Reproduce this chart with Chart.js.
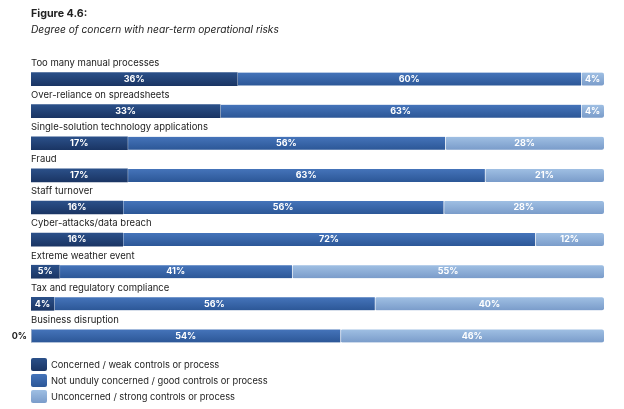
<!DOCTYPE html>
<html>
<head>
<meta charset="utf-8">
<script src="https://cdn.jsdelivr.net/npm/chart.js@4"></script>
<style>
  body { margin: 0; background: #fff; font-family: Inter, "Open Sans", sans-serif; color: #222; }
  #wrap { position: relative; width: 624px; height: 409px; }
  #myChart { position: absolute; left: 0; top: 0; }
  .title { position: absolute; left: 31px; top: 7px; font-weight: bold; font-size: 10.7px; }
  .sub { position: absolute; left: 31px; top: 23px; font-style: italic; font-size: 10.2px; }
  #legend { position: absolute; left: 31px; top: 356px; font-size: 9.3px; }
  .item { display: flex; align-items: center; height: 16px; }
  .box { width: 16px; height: 13px; border-radius: 2px; margin-right: 4px; }
</style>
</head>
<body>
<div id="wrap">
  <canvas id="myChart" width="624" height="409"></canvas>
  <div class="title">Figure 4.6:</div>
  <div class="sub">Degree of concern with near-term operational risks</div>
  <div id="legend"></div>
</div>
<script>
// Dados
const categories = [
  'Too many manual processes',
  'Over-reliance on spreadsheets',
  'Single-solution technology applications',
  'Fraud',
  'Staff turnover',
  'Cyber-attacks/data breach',
  'Extreme weather event',
  'Tax and regulatory compliance',
  'Business disruption'
];
const seriesNames = [
  'Concerned / weak controls or process',
  'Not unduly concerned / good controls or process',
  'Unconcerned / strong controls or process'
];
const concerned = [36, 33, 17, 17, 16, 16, 5, 4, 0];
const notUnduly = [60, 63, 56, 63, 56, 72, 41, 56, 54];
const unconcerned = [4, 4, 28, 21, 28, 12, 55, 40, 46];

const rawSeries = [concerned, notUnduly, unconcerned];
const colorsTop = ['#2b5089', '#4574ba', '#9fbfe3'];
const colorsBottom = ['#1a3564', '#2c5797', '#7a9cca'];

// each row is scaled to 100% width (some rows add up to 101)
const totals = categories.map((c, i) => concerned[i] + notUnduly[i] + unconcerned[i]);

function gradientFor(k) {
  return function (context) {
    const chart = context.chart;
    if (!chart.chartArea || !chart.scales.y) return colorsTop[k];
    const yc = chart.scales.y.getPixelForValue(context.dataIndex);
    const g = chart.ctx.createLinearGradient(0, yc - 6.5, 0, yc + 6.5);
    g.addColorStop(0, colorsTop[k]);
    g.addColorStop(1, colorsBottom[k]);
    return g;
  };
}

const datasets = rawSeries.map((arr, k) => ({
  label: seriesNames[k],
  data: arr.map((v, i) => v / totals[i] * 100),
  raw: arr,
  backgroundColor: gradientFor(k),
  borderColor: '#ffffff',
  borderWidth: { left: k === 0 ? 0 : 1, right: 0, top: 0, bottom: 0 },
  borderRadius: 2,
  borderSkipped: false,
  barThickness: 13
}));

// rótulos das categorias acima das barras e valores dentro
const labelPlugin = {
  id: 'labelPlugin',
  afterDatasetsDraw(chart) {
    const ctx = chart.ctx;
    const yScale = chart.scales.y;
    const area = chart.chartArea;
    ctx.save();
    ctx.font = '9.5px Inter, "Open Sans", sans-serif';
    ctx.fillStyle = '#222';
    ctx.textAlign = 'left';
    ctx.textBaseline = 'middle';
    categories.forEach((c, i) => {
      ctx.fillText(c, area.left, yScale.getPixelForValue(i) - 16);
    });
    ctx.font = 'bold 9px Inter, "Open Sans", sans-serif';
    chart.data.datasets.forEach((ds, k) => {
      const meta = chart.getDatasetMeta(k);
      meta.data.forEach((bar, i) => {
        const v = ds.raw[i];
        const txt = v + '%';
        if (v === 0) {
          ctx.fillStyle = '#222';
          ctx.textAlign = 'right';
          ctx.fillText(txt, bar.base - 4, bar.y);
        } else {
          ctx.fillStyle = '#ffffff';
          ctx.textAlign = 'center';
          ctx.fillText(txt, (bar.x + bar.base) / 2, bar.y);
        }
      });
    });
    ctx.restore();
  }
};

new Chart(document.getElementById('myChart'), {
  type: 'bar',
  data: { labels: categories, datasets: datasets },
  options: {
    indexAxis: 'y',
    responsive: false,
    animation: false,
    layout: { padding: { left: 31, right: 20, top: 63, bottom: 57 } },
    scales: {
      x: { stacked: true, min: 0, max: 100, display: false },
      y: { stacked: true, display: false }
    },
    plugins: {
      legend: { display: false },
      tooltip: { enabled: false }
    }
  },
  plugins: [labelPlugin]
});

// legenda
const legend = document.getElementById('legend');
seriesNames.forEach((name, k) => {
  const item = document.createElement('div');
  item.className = 'item';
  item.innerHTML = '<div class="box" style="background:linear-gradient(' + colorsTop[k] + ',' + colorsBottom[k] + ')"></div>' + name;
  legend.appendChild(item);
});
</script>
</body>
</html>
